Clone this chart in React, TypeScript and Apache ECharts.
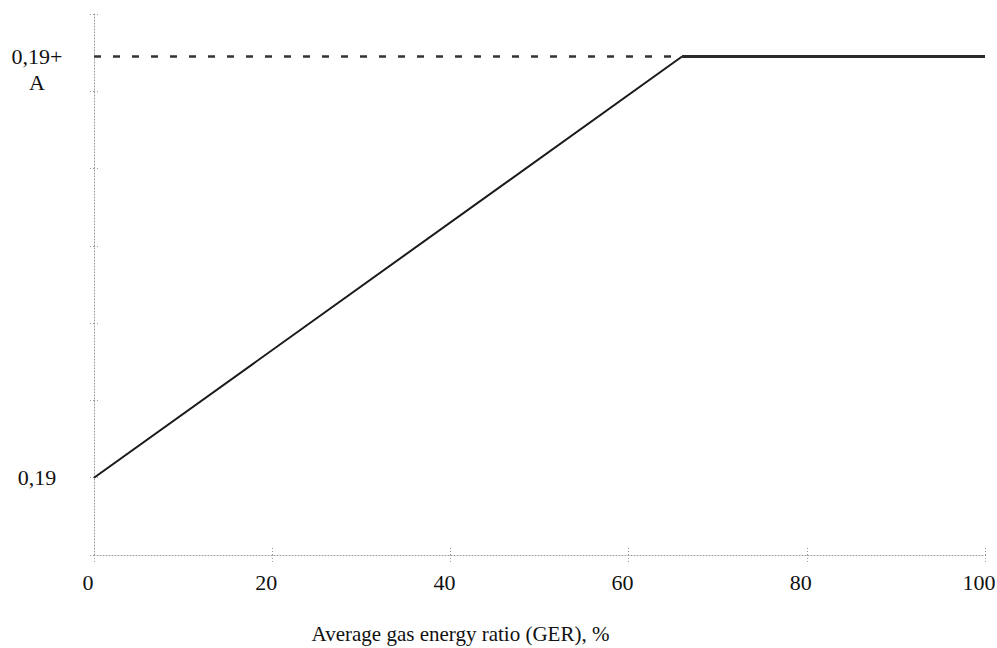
import React, { useEffect, useRef } from "react";
import * as echarts from "echarts";

const kinkX = 66;
const baseLevel = 1;
const topLevel = 6.45;
const risingLine: [number, number][] = [[0, baseLevel], [kinkX, topLevel]];
const flatLine: [number, number][] = [[kinkX, topLevel], [100, topLevel]];
const dashedLine: [number, number][] = [[0, topLevel], [kinkX, topLevel]];
const xTicks = [0, 20, 40, 60, 80, 100];
const yTicks = [0, 1, 2, 3, 4, 5, 6, 7];
const yLabelValues = [1, 6.45, 6.12];
const yLabelTexts: Record<string, string> = { "1": "0,19", "6.45": "0,19+", "6.12": "A" };
const xName = "Average gas energy ratio (GER), %";

const FONT = "Liberation Serif";
const axisGray = "#9a9a9a";

export default function App() {
  const ref = useRef<HTMLDivElement>(null);
  useEffect(() => {
    if (!ref.current) return;
    const chart = echarts.init(ref.current, null, { renderer: "svg" });
    const lineStyleAxis = { color: axisGray, type: [1, 2] as any, width: 1 };
    chart.setOption({
      animation: false,
      backgroundColor: "#ffffff",
      grid: [{ left: 94, right: 12, top: 14, bottom: 93, outerBoundsMode: "none", containLabel: false }],
      xAxis: [
        {
          type: "value",
          min: 0,
          max: 100,
          interval: 20,
          name: xName,
          nameLocation: "middle",
          nameGap: 68,
          nameTextStyle: { fontFamily: FONT, fontSize: 21, color: "#111", padding: [0, 158, 0, 0] },
          axisLine: { show: true, lineStyle: lineStyleAxis },
          axisTick: { show: true, length: 8, lineStyle: lineStyleAxis, customValues: xTicks },
          axisLabel: {
            fontFamily: FONT,
            fontSize: 22,
            color: "#111",
            margin: 16,
            padding: [0, 12, 0, 0],
            customValues: xTicks,
          },
          splitLine: { show: false },
        },
        {
          type: "value",
          min: 0,
          max: 100,
          interval: 20,
          position: "bottom",
          axisLine: { show: false },
          axisTick: { show: true, inside: true, length: 8, lineStyle: lineStyleAxis, customValues: xTicks },
          axisLabel: { show: false },
          splitLine: { show: false },
        },
      ],
      yAxis: [
        {
          type: "value",
          min: 0,
          max: 7,
          interval: 1,
          axisLine: { show: true, lineStyle: lineStyleAxis },
          axisTick: { show: true, length: 6, lineStyle: lineStyleAxis, customValues: yTicks },
          axisLabel: {
            fontFamily: FONT,
            fontSize: 22,
            color: "#111",
            align: "center",
            margin: 57,
            customValues: yLabelValues,
            formatter: (v: number) => yLabelTexts[String(v)] ?? "",
          },
          splitLine: { show: false },
        },
        {
          type: "value",
          min: 0,
          max: 7,
          interval: 1,
          position: "left",
          axisLine: { show: false },
          axisTick: { show: true, inside: true, length: 6, lineStyle: lineStyleAxis, customValues: yTicks },
          axisLabel: { show: false },
          splitLine: { show: false },
        },
      ],
      series: [
        {
          type: "line",
          data: dashedLine,
          symbol: "none",
          lineStyle: { color: "#333", width: 2.5, type: [7, 12] },
          z: 2,
        },
        {
          type: "line",
          data: risingLine,
          symbol: "none",
          lineStyle: { color: "#1a1a1a", width: 2 },
          z: 3,
        },
        {
          type: "line",
          data: flatLine,
          symbol: "none",
          lineStyle: { color: "#2a2a2a", width: 3 },
          z: 3,
        },
      ],
    });
    return () => chart.dispose();
  }, []);
  return <div ref={ref} style={{ width: 997, height: 648, position: "absolute", left: 0, top: 0 }} />;
}
